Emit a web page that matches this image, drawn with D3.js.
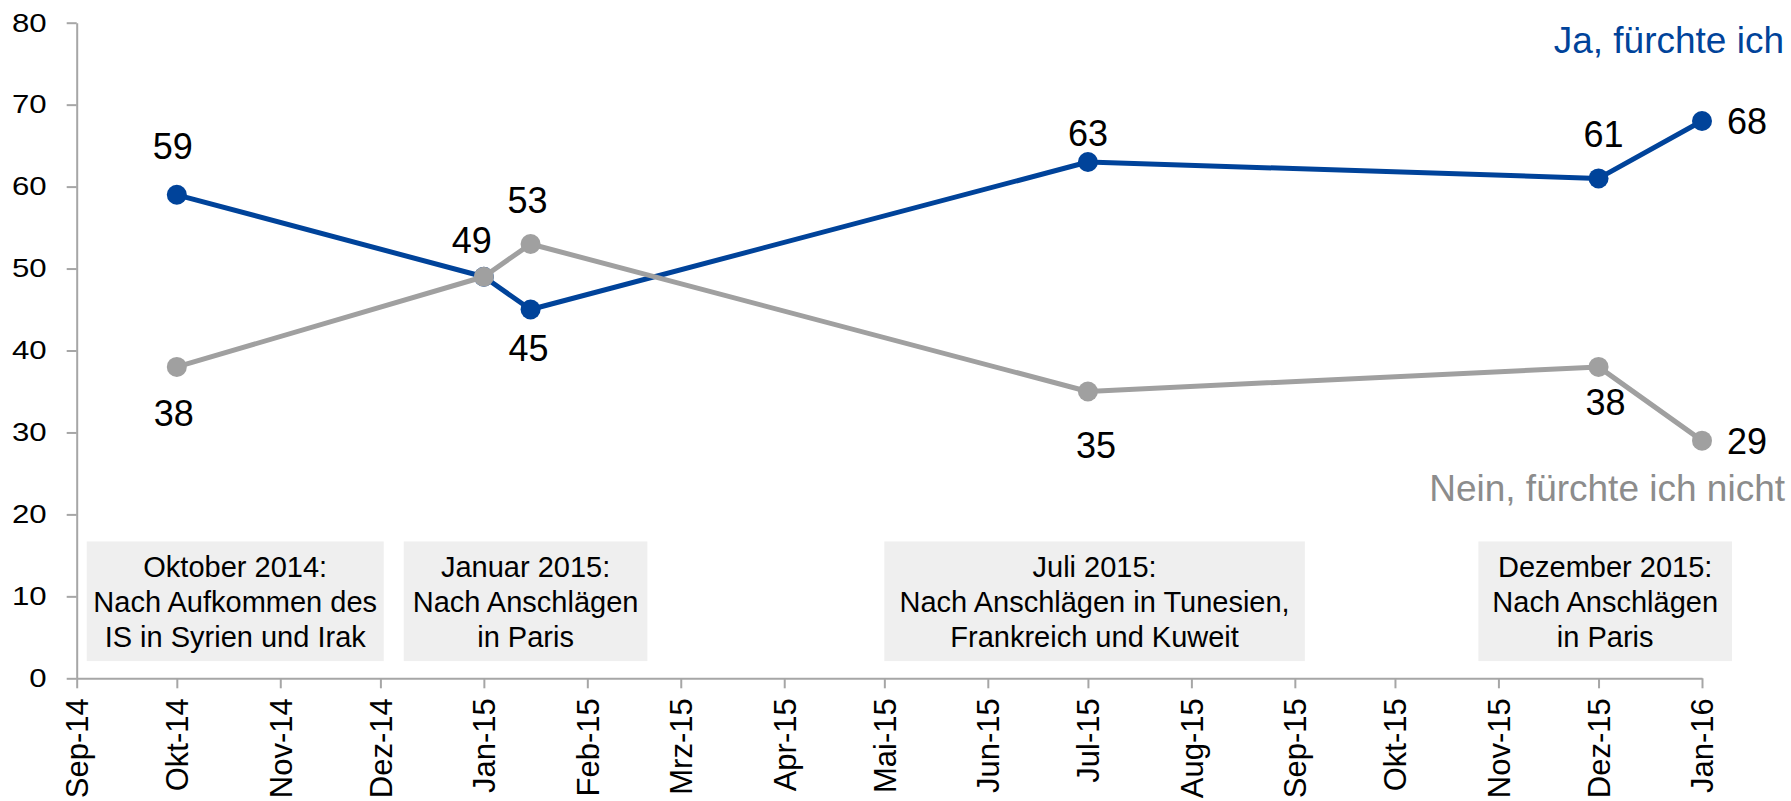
<!DOCTYPE html>
<html lang="de">

<head>
    <meta charset="UTF-8">
    <title>Furcht vor Terror</title>
    <style>
        body { margin: 0; background: #fff; }
        text { font-family: "Liberation Sans", Arial, sans-serif; }
    </style>
</head>

<body>
    <script src="https://cdn.jsdelivr.net/npm/d3@7"></script>
    <script>
        // Daten
        var dates = ["2014-10-01", "2015-01-01", "2015-01-15", "2015-07-01", "2015-12-01", "2016-01-01"];
        var ja = [59, 49, 45, 63, 61, 68];
        var nein = [38, 49, 53, 35, 38, 29];
        var monthLabels = ["Sep-14", "Okt-14", "Nov-14", "Dez-14", "Jan-15", "Feb-15", "Mrz-15", "Apr-15", "Mai-15",
            "Jun-15", "Jul-15", "Aug-15", "Sep-15", "Okt-15", "Nov-15", "Dez-15", "Jan-16"];
        var yTicks = [0, 10, 20, 30, 40, 50, 60, 70, 80];

        // Kommentarkästen: von, bis, Text
        var noteFrom = ["2014-09-04", "2014-12-08", "2015-05-01", "2015-10-26"];
        var noteTo = ["2014-12-02", "2015-02-19", "2015-09-04", "2016-01-10"];
        var noteText = [
            ["Oktober 2014:", "Nach Aufkommen des", "IS in Syrien und Irak"],
            ["Januar 2015:", "Nach Anschlägen", "in Paris"],
            ["Juli 2015:", "Nach Anschlägen in Tunesien,", "Frankreich und Kuweit"],
            ["Dezember 2015:", "Nach Anschlägen", "in Paris"]
        ];

        // Lage der Wertbeschriftungen relativ zum Punkt [dx, dy, anchor]
        var jaLabelPos = [[-4, -36, "middle"], [-12, -24, "middle"], [-2, 51, "middle"], [0, -16, "middle"], [5, -31, "middle"], [25, 13, "start"]];
        var neinLabelPos = [[-3, 59, "middle"], null, [-3, -31, "middle"], [8, 67, "middle"], [7, 48, "middle"], [25, 13, "start"]];

        var W = 1791, H = 801;
        var blue = "#00439a", grey = "#a0a0a0", axisGrey = "#a6a6a6";
        var parse = d3.timeParse("%Y-%m-%d");

        var svg = d3.select("body").append("svg").attr("width", W).attr("height", H);

        var x = d3.scaleTime().domain([new Date(2014, 8, 1), new Date(2016, 0, 1)]).range([76.7, 1702]);
        var y = d3.scaleLinear().domain([0, 80]).range([678.3, 22.7]);

        // Kästen
        noteText.forEach(function (lines, i) {
            var x0 = x(parse(noteFrom[i])), x1 = x(parse(noteTo[i]));
            var g = svg.append("g");
            g.append("rect").attr("x", x0).attr("y", y(16.7)).attr("width", x1 - x0).attr("height", y(2.1) - y(16.7))
                .attr("fill", "#efefef");
            var cy = (y(16.7) + y(2.1)) / 2;
            lines.forEach(function (l, j) {
                g.append("text").attr("x", (x0 + x1) / 2).attr("y", cy - 24.3 + j * 35)
                    .attr("text-anchor", "middle").attr("font-size", 29).attr("fill", "#000").text(l);
            });
        });

        // y-Achse (Ziffern im Original etwas breit gezogen)
        var yAxis = svg.append("g").attr("transform", "translate(" + x.range()[0] + ",0)")
            .call(d3.axisLeft(y).tickValues(yTicks).tickSize(10).tickSizeOuter(0));
        yAxis.attr("font-size", null).attr("font-family", null);
        yAxis.selectAll("text").attr("font-size", 26).attr("fill", "#000")
            .attr("x", -25).attr("transform", "scale(1.2,1)");

        // x-Achse
        var months = d3.timeMonth.range(new Date(2014, 8, 1), new Date(2016, 0, 2));
        var xAxis = svg.append("g").attr("transform", "translate(0," + y(0) + ")")
            .call(d3.axisBottom(x).tickValues(months).tickSize(10).tickSizeOuter(0)
                .tickFormat(function (d, i) { return monthLabels[i]; }));
        xAxis.attr("font-size", null).attr("font-family", null);
        xAxis.selectAll("text").attr("font-size", 31).attr("fill", "#000")
            .attr("transform", "rotate(-90)").attr("text-anchor", "end")
            .attr("x", -20).attr("y", 0).attr("dy", "0.35em");

        svg.selectAll(".domain, .tick line").attr("stroke", axisGrey).attr("stroke-width", 2);

        // Reihen
        var line = d3.line().x(function (d) { return x(d.date); }).y(function (d) { return y(d.v); });

        function drawSeries(values, color, pos) {
            var pts = values.map(function (v, i) { return { date: parse(dates[i]), v: v, pos: pos[i] }; });
            svg.append("path").datum(pts).attr("d", line).attr("fill", "none")
                .attr("stroke", color).attr("stroke-width", 5).attr("stroke-linejoin", "round");
            svg.selectAll(null).data(pts).enter().append("circle")
                .attr("cx", function (d) { return x(d.date); }).attr("cy", function (d) { return y(d.v); })
                .attr("r", 10).attr("fill", color);
            svg.selectAll(null).data(pts.filter(function (d) { return d.pos; })).enter().append("text")
                .attr("x", function (d) { return x(d.date) + d.pos[0]; })
                .attr("y", function (d) { return y(d.v) + d.pos[1]; })
                .attr("text-anchor", function (d) { return d.pos[2]; })
                .attr("font-size", 36).attr("fill", "#000")
                .text(function (d) { return d.v; });
        }
        drawSeries(ja, blue, jaLabelPos);
        drawSeries(nein, grey, neinLabelPos);

        // Legende
        svg.append("text").attr("x", W - 7).attr("y", 53).attr("text-anchor", "end")
            .attr("font-size", 37).attr("fill", blue).text("Ja, fürchte ich");
        svg.append("text").attr("x", W - 6).attr("y", 501).attr("text-anchor", "end")
            .attr("font-size", 37).attr("fill", "#8c8c8c").text("Nein, fürchte ich nicht");
    </script>
</body>

</html>
